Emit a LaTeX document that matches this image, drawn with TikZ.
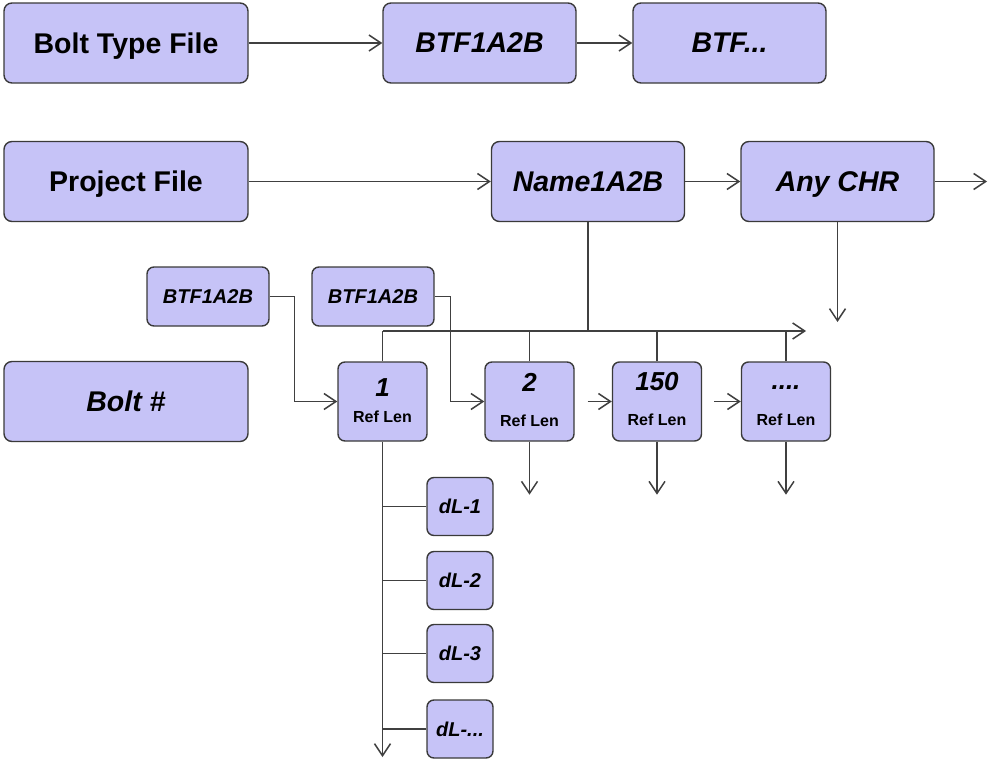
\documentclass[tikz,border=0pt]{standalone}
\usepackage{fontspec}
\setmainfont{Liberation Sans}
\usetikzlibrary{arrows.meta,calc}
\definecolor{boxfill}{HTML}{C6C3F7}
\definecolor{boxline}{HTML}{3A3A3A}
\definecolor{conn}{HTML}{404040}
\tikzset{
  base/.style={draw=boxline, fill=boxfill, line width=1.4pt, rounded corners=8pt, inner sep=0pt, align=center, text depth=0pt},
  bigbox/.style={base, minimum width=244pt, minimum height=80pt, font=\fontsize{28.5}{30}\selectfont\bfseries},
  bigit/.style={base, minimum width=193pt, minimum height=80pt, font=\fontsize{28.5}{30}\selectfont\bfseries\itshape},
  smallbtf/.style={base, rounded corners=7pt, minimum width=122pt, minimum height=59pt, font=\fontsize{20}{22}\selectfont\bfseries\itshape},
  refbox/.style={base, rounded corners=7pt, minimum width=89pt, minimum height=79pt},
  numtxt/.style={font=\fontsize{26}{28}\selectfont\bfseries\itshape, inner sep=0pt},
  reftxt/.style={font=\fontsize{16}{18}\selectfont\bfseries, inner sep=0pt},
  dlbox/.style={base, rounded corners=7pt, minimum width=66pt, minimum height=58pt, font=\fontsize{20}{22}\selectfont\bfseries\itshape},
  conn/.style={draw=conn, line width=1.5pt},
  arr/.style={conn, -{Straight Barb[length=12pt,width=16pt,line width=1.5pt]}}
}
\begin{document}
\begin{tikzpicture}[x=1pt,y=-1pt]
\useasboundingbox (0,0) rectangle (989,763);
% top rows
\node[bigbox] (btfile) at (126,43) {Bolt Type File};
\node[bigit] (btf) at (479.5,43) {BTF1A2B};
\node[bigit] (btfd) at (729.5,43) {BTF...};
\node[bigbox] (proj) at (126,181.5) {Project File};
\node[bigit] (name) at (588,181.5) {Name1A2B};
\node[bigit] (any) at (837.5,181.5) {Any CHR};
\node[bigbox, font=\fontsize{28.5}{30}\selectfont\bfseries\itshape] (bolt) at (126,401.5) {Bolt \#};
% small BTF boxes
\node[smallbtf] (s1) at (208,296.5) {BTF1A2B};
\node[smallbtf] (s2) at (373,296.5) {BTF1A2B};
% ref boxes
\node[refbox] (r1) at (382.5,401.5) {};
\node[refbox] (r2) at (529.5,401.5) {};
\node[refbox] (r3) at (657,401.5) {};
\node[refbox] (r4) at (786,401.5) {};
\node[numtxt] (n1) at (382.5,388) {1};
\node[reftxt] (l1) at (382.5,417) {Ref Len};
\node[numtxt] (n2) at (529.5,382) {2};
\node[reftxt] (l2) at (529.5,421) {Ref Len};
\node[numtxt] (n3) at (657,382) {150};
\node[reftxt] (l3) at (657,420) {Ref Len};
\node[numtxt] (n4) at (786,388) {....};
\node[reftxt] (l4) at (786,420) {Ref Len};
% dL boxes
\node[dlbox] (d1) at (460,506.5) {dL-1};
\node[dlbox] (d2) at (460,580.5) {dL-2};
\node[dlbox] (d3) at (460,653.5) {dL-3};
\node[dlbox] (d4) at (460,729) {dL-...};
% coordinates
\coordinate (anyout) at (987,181.5);
\coordinate (anydown) at (837.5,322);
\coordinate (busL) at (382.5,331);
\coordinate (busR) at (806,331);
\coordinate (busJ) at (588,331);
\coordinate (r1end) at (382.5,757);
% connectors
\draw[arr] (btfile) -- (btf);
\draw[arr] (btf) -- (btfd);
\draw[arr] (proj) -- (name);
\draw[arr] (name) -- (any);
\draw[arr] (any) -- (anyout);
\draw[arr] (any.south) -- (anydown);
\draw[conn] (name.south) -- (busJ);
\draw[arr] (busL) -- (busR);
\draw[conn] (busL) -- (r1.north);
\draw[conn] (r2.north) -- (r2.north |- busL);
\draw[conn] (r3.north) -- (r3.north |- busL);
\draw[conn] (r4.north) -- (r4.north |- busL);
\draw[arr] (s1.east) -- ++(25,0) |- (r1.west);
\draw[arr] (s2.east) -- ++(16,0) |- (r2.west);
\draw[arr] ([xshift=13pt]r2.east) -- (r3.west);
\draw[arr] ([xshift=12pt]r3.east) -- (r4.west);
\draw[arr] (r2.south) -- ++(0,53);
\draw[arr] (r3.south) -- ++(0,53);
\draw[arr] (r4.south) -- ++(0,53);
\draw[arr] (r1.south) -- (r1end);
\draw[conn] (d1.west) -- (d1.west -| r1.south);
\draw[conn] (d2.west) -- (d2.west -| r1.south);
\draw[conn] (d3.west) -- (d3.west -| r1.south);
\draw[conn] (d4.west) -- (d4.west -| r1.south);
\end{tikzpicture}
\end{document}
